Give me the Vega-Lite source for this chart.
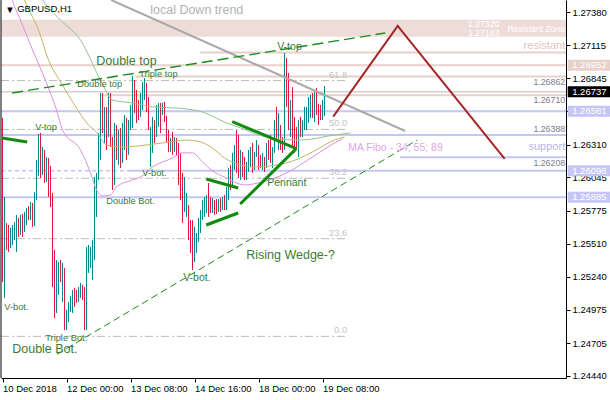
{
  "$schema": "https://vega.github.io/schema/vega-lite/v6.json",
  "width": 565,
  "height": 378,
  "autosize": {"type": "none"},
  "padding": {"left": 1, "top": 0, "right": 44, "bottom": 22},
  "background": "white",
  "config": {"view": {"stroke": null}, "font": "Liberation Sans"},
  "resolve": {"scale": {"color": "independent"}, "axis": {"x": "independent", "y": "independent"}},
  "datasets": {
    "zone": [{"lo": 1.27183, "hi": 1.2732}],
    "levels": [
      {"p": 1.27056, "a": 98.85, "b": 281.75, "kind": "res"},
      {"p": 1.26952, "a": -0.75, "b": 281.75, "kind": "res"},
      {"p": 1.26862, "a": 66.35, "b": 281.75, "kind": "res"},
      {"p": 1.2671, "a": 48.85, "b": 281.75, "kind": "res"},
      {"p": 1.26581, "a": -0.75, "b": 281.75, "kind": "sup"},
      {"p": 1.26388, "a": -0.75, "b": 281.75, "kind": "sup"},
      {"p": 1.26208, "a": 198.85, "b": 281.75, "kind": "sup"},
      {"p": 1.26098, "a": 62.35, "b": 281.75, "kind": "sup"},
      {"p": 1.25885, "a": -0.75, "b": 281.75, "kind": "sup"}
    ],
    "dashed": [{"p": 1.26098, "a": -0.75, "b": 62.35}],
    "price": [{"p": 1.26737}],
    "fibo": [
      {"lvl": "61.8", "p": 1.26828},
      {"lvl": "50.0", "p": 1.26433},
      {"lvl": "38.2", "p": 1.26038},
      {"lvl": "23.6", "p": 1.25549},
      {"lvl": "0.0", "p": 1.24759}
    ],
    "candles": [
      {"i":0,"o":1.26509,"h":1.26526,"l":1.25199,"c":1.25361},
      {"i":1,"o":1.25361,"h":1.25887,"l":1.2507,"c":1.25603},
      {"i":2,"o":1.25603,"h":1.25676,"l":1.25458,"c":1.25538},
      {"i":3,"o":1.25538,"h":1.2566,"l":1.25442,"c":1.25498},
      {"i":4,"o":1.25498,"h":1.25636,"l":1.25474,"c":1.25603},
      {"i":5,"o":1.25603,"h":1.2566,"l":1.25498,"c":1.25619},
      {"i":6,"o":1.25619,"h":1.25684,"l":1.25538,"c":1.25652},
      {"i":7,"o":1.25652,"h":1.25741,"l":1.25442,"c":1.25684},
      {"i":8,"o":1.25684,"h":1.25716,"l":1.25563,"c":1.25603},
      {"i":9,"o":1.25603,"h":1.25741,"l":1.25579,"c":1.25716},
      {"i":10,"o":1.25716,"h":1.25749,"l":1.25563,"c":1.25619},
      {"i":11,"o":1.25619,"h":1.25765,"l":1.25603,"c":1.25741},
      {"i":12,"o":1.25741,"h":1.25797,"l":1.2566,"c":1.25781},
      {"i":13,"o":1.25781,"h":1.25813,"l":1.257,"c":1.25733},
      {"i":14,"o":1.25733,"h":1.25846,"l":1.257,"c":1.25822},
      {"i":15,"o":1.25822,"h":1.25838,"l":1.25644,"c":1.25684},
      {"i":16,"o":1.25684,"h":1.25927,"l":1.25652,"c":1.25895},
      {"i":17,"o":1.25895,"h":1.26186,"l":1.25862,"c":1.26146},
      {"i":18,"o":1.26146,"h":1.26396,"l":1.26057,"c":1.26347},
      {"i":19,"o":1.26347,"h":1.26404,"l":1.2604,"c":1.26105},
      {"i":20,"o":1.26105,"h":1.26291,"l":1.26065,"c":1.26251},
      {"i":21,"o":1.26251,"h":1.26267,"l":1.26,"c":1.26057},
      {"i":22,"o":1.26057,"h":1.2621,"l":1.26008,"c":1.26186},
      {"i":23,"o":1.26186,"h":1.26202,"l":1.25887,"c":1.25943},
      {"i":24,"o":1.25943,"h":1.26138,"l":1.25805,"c":1.25862},
      {"i":25,"o":1.25862,"h":1.25919,"l":1.25158,"c":1.25215},
      {"i":26,"o":1.25215,"h":1.25458,"l":1.24907,"c":1.25053},
      {"i":27,"o":1.25053,"h":1.25377,"l":1.24948,"c":1.25296},
      {"i":28,"o":1.25296,"h":1.25361,"l":1.25094,"c":1.25312},
      {"i":29,"o":1.25312,"h":1.25377,"l":1.25199,"c":1.25231},
      {"i":30,"o":1.25231,"h":1.25353,"l":1.25037,"c":1.25296},
      {"i":31,"o":1.25296,"h":1.25312,"l":1.2481,"c":1.24875},
      {"i":32,"o":1.24851,"h":1.24972,"l":1.2481,"c":1.2494},
      {"i":33,"o":1.2494,"h":1.25037,"l":1.24875,"c":1.25013},
      {"i":34,"o":1.25013,"h":1.25086,"l":1.24956,"c":1.25062},
      {"i":35,"o":1.25062,"h":1.25134,"l":1.24948,"c":1.25118},
      {"i":36,"o":1.25118,"h":1.2515,"l":1.24997,"c":1.25021},
      {"i":37,"o":1.25053,"h":1.25134,"l":1.25029,"c":1.25037},
      {"i":38,"o":1.25037,"h":1.25158,"l":1.25037,"c":1.25134},
      {"i":39,"o":1.25134,"h":1.25191,"l":1.2507,"c":1.25167},
      {"i":40,"o":1.25167,"h":1.25175,"l":1.25053,"c":1.2507},
      {"i":41,"o":1.2507,"h":1.25158,"l":1.2481,"c":1.24875},
      {"i":42,"o":1.24875,"h":1.25482,"l":1.2481,"c":1.25442},
      {"i":43,"o":1.25312,"h":1.25498,"l":1.25272,"c":1.25474},
      {"i":44,"o":1.25361,"h":1.25482,"l":1.25312,"c":1.25458},
      {"i":45,"o":1.25256,"h":1.25538,"l":1.25215,"c":1.25498},
      {"i":46,"o":1.25394,"h":1.26048,"l":1.25377,"c":1.26008},
      {"i":47,"o":1.25781,"h":1.26081,"l":1.25725,"c":1.2604},
      {"i":48,"o":1.2604,"h":1.26404,"l":1.26024,"c":1.26364},
      {"i":49,"o":1.26227,"h":1.26728,"l":1.26186,"c":1.26671},
      {"i":50,"o":1.26671,"h":1.26728,"l":1.26404,"c":1.26445},
      {"i":51,"o":1.26347,"h":1.26615,"l":1.26323,"c":1.26574},
      {"i":52,"o":1.26574,"h":1.26615,"l":1.26267,"c":1.26307},
      {"i":53,"o":1.26388,"h":1.26728,"l":1.26372,"c":1.26687},
      {"i":54,"o":1.26687,"h":1.26728,"l":1.26291,"c":1.26347},
      {"i":55,"o":1.26347,"h":1.26372,"l":1.25943,"c":1.26024},
      {"i":56,"o":1.26024,"h":1.26485,"l":1.25984,"c":1.26428},
      {"i":57,"o":1.26428,"h":1.26469,"l":1.26186,"c":1.26227},
      {"i":58,"o":1.26186,"h":1.26428,"l":1.26146,"c":1.26388},
      {"i":59,"o":1.26388,"h":1.26445,"l":1.26121,"c":1.26186},
      {"i":60,"o":1.26186,"h":1.26485,"l":1.26162,"c":1.26445},
      {"i":61,"o":1.26347,"h":1.2655,"l":1.26267,"c":1.26509},
      {"i":62,"o":1.26509,"h":1.26526,"l":1.26186,"c":1.26267},
      {"i":63,"o":1.26267,"h":1.26509,"l":1.26227,"c":1.26469},
      {"i":64,"o":1.26445,"h":1.26631,"l":1.26428,"c":1.26606},
      {"i":65,"o":1.26469,"h":1.26866,"l":1.26445,"c":1.26792},
      {"i":66,"o":1.26792,"h":1.26833,"l":1.26566,"c":1.26606},
      {"i":67,"o":1.26671,"h":1.26752,"l":1.26485,"c":1.26526},
      {"i":68,"o":1.26631,"h":1.26671,"l":1.26509,"c":1.2655},
      {"i":69,"o":1.2655,"h":1.26728,"l":1.26534,"c":1.26695},
      {"i":70,"o":1.26631,"h":1.26817,"l":1.2659,"c":1.26768},
      {"i":71,"o":1.26712,"h":1.26849,"l":1.26671,"c":1.26817},
      {"i":72,"o":1.26792,"h":1.26809,"l":1.26574,"c":1.26606},
      {"i":73,"o":1.26606,"h":1.26695,"l":1.26428,"c":1.26469},
      {"i":74,"o":1.26186,"h":1.26453,"l":1.26129,"c":1.26412},
      {"i":75,"o":1.26283,"h":1.26534,"l":1.26243,"c":1.26493},
      {"i":76,"o":1.26469,"h":1.26509,"l":1.26323,"c":1.26364},
      {"i":77,"o":1.26412,"h":1.26631,"l":1.26372,"c":1.2659},
      {"i":78,"o":1.26469,"h":1.26647,"l":1.26453,"c":1.26606},
      {"i":79,"o":1.26606,"h":1.26647,"l":1.26404,"c":1.26445},
      {"i":80,"o":1.26574,"h":1.26647,"l":1.2655,"c":1.26623},
      {"i":81,"o":1.26623,"h":1.26655,"l":1.26493,"c":1.26526},
      {"i":82,"o":1.26526,"h":1.26542,"l":1.26331,"c":1.26364},
      {"i":83,"o":1.26388,"h":1.26428,"l":1.26251,"c":1.26283},
      {"i":84,"o":1.26283,"h":1.26364,"l":1.26251,"c":1.26347},
      {"i":85,"o":1.26347,"h":1.26412,"l":1.26227,"c":1.26267},
      {"i":86,"o":1.26267,"h":1.26372,"l":1.26251,"c":1.26331},
      {"i":87,"o":1.26331,"h":1.26364,"l":1.26227,"c":1.26267},
      {"i":88,"o":1.26283,"h":1.26323,"l":1.25984,"c":1.2604},
      {"i":89,"o":1.26105,"h":1.26243,"l":1.25862,"c":1.25903},
      {"i":90,"o":1.25943,"h":1.26081,"l":1.25676,"c":1.25741},
      {"i":91,"o":1.25781,"h":1.26048,"l":1.25765,"c":1.25984},
      {"i":92,"o":1.25741,"h":1.25919,"l":1.25725,"c":1.25878},
      {"i":93,"o":1.25805,"h":1.25822,"l":1.25538,"c":1.25579},
      {"i":94,"o":1.2566,"h":1.257,"l":1.25434,"c":1.25474},
      {"i":95,"o":1.25579,"h":1.257,"l":1.25296,"c":1.25418},
      {"i":96,"o":1.25394,"h":1.25644,"l":1.25361,"c":1.25603},
      {"i":97,"o":1.25458,"h":1.25595,"l":1.25434,"c":1.25571},
      {"i":98,"o":1.25554,"h":1.25716,"l":1.25522,"c":1.25684},
      {"i":99,"o":1.25619,"h":1.25781,"l":1.25595,"c":1.25757},
      {"i":100,"o":1.25716,"h":1.25862,"l":1.257,"c":1.2583},
      {"i":101,"o":1.25741,"h":1.25887,"l":1.25725,"c":1.25862},
      {"i":102,"o":1.25781,"h":1.25903,"l":1.25757,"c":1.25878},
      {"i":103,"o":1.25943,"h":1.26,"l":1.25725,"c":1.25765},
      {"i":104,"o":1.25862,"h":1.25887,"l":1.25757,"c":1.25781},
      {"i":105,"o":1.25765,"h":1.25878,"l":1.25757,"c":1.25846},
      {"i":106,"o":1.25846,"h":1.25862,"l":1.25741,"c":1.25765},
      {"i":107,"o":1.25838,"h":1.2587,"l":1.25749,"c":1.25781},
      {"i":108,"o":1.25781,"h":1.2587,"l":1.25765,"c":1.25846},
      {"i":109,"o":1.25862,"h":1.25878,"l":1.25765,"c":1.25797},
      {"i":110,"o":1.25797,"h":1.25887,"l":1.25781,"c":1.25862},
      {"i":111,"o":1.25862,"h":1.25903,"l":1.25781,"c":1.25822},
      {"i":112,"o":1.25805,"h":1.25967,"l":1.25781,"c":1.25927},
      {"i":113,"o":1.25878,"h":1.26121,"l":1.25862,"c":1.26089},
      {"i":114,"o":1.26089,"h":1.26146,"l":1.25943,"c":1.25984},
      {"i":115,"o":1.25984,"h":1.26243,"l":1.2596,"c":1.26202},
      {"i":116,"o":1.26146,"h":1.26307,"l":1.26105,"c":1.26267},
      {"i":117,"o":1.26267,"h":1.26428,"l":1.26081,"c":1.26121},
      {"i":118,"o":1.26186,"h":1.26388,"l":1.2604,"c":1.26089},
      {"i":119,"o":1.2604,"h":1.26267,"l":1.26024,"c":1.26227},
      {"i":120,"o":1.26227,"h":1.26251,"l":1.26048,"c":1.26089},
      {"i":121,"o":1.26146,"h":1.2621,"l":1.26024,"c":1.26065},
      {"i":122,"o":1.2604,"h":1.2617,"l":1.26024,"c":1.26146},
      {"i":123,"o":1.26105,"h":1.26267,"l":1.26089,"c":1.26227},
      {"i":124,"o":1.26146,"h":1.26291,"l":1.26129,"c":1.26267},
      {"i":125,"o":1.26267,"h":1.26323,"l":1.26081,"c":1.26121},
      {"i":126,"o":1.26121,"h":1.26251,"l":1.26105,"c":1.26227},
      {"i":127,"o":1.26227,"h":1.26347,"l":1.2621,"c":1.26323},
      {"i":128,"o":1.26283,"h":1.26307,"l":1.26105,"c":1.26146},
      {"i":129,"o":1.26186,"h":1.26227,"l":1.26121,"c":1.26146},
      {"i":130,"o":1.26129,"h":1.26243,"l":1.26105,"c":1.2621},
      {"i":131,"o":1.26186,"h":1.2621,"l":1.26089,"c":1.26121},
      {"i":132,"o":1.26146,"h":1.26323,"l":1.26121,"c":1.26291},
      {"i":133,"o":1.26307,"h":1.26347,"l":1.26186,"c":1.26227},
      {"i":134,"o":1.26267,"h":1.26388,"l":1.26162,"c":1.26202},
      {"i":135,"o":1.26146,"h":1.26291,"l":1.26121,"c":1.26267},
      {"i":136,"o":1.26267,"h":1.26509,"l":1.26243,"c":1.26469},
      {"i":137,"o":1.2655,"h":1.26615,"l":1.26347,"c":1.26388},
      {"i":138,"o":1.26347,"h":1.26566,"l":1.26267,"c":1.26509},
      {"i":139,"o":1.26428,"h":1.26469,"l":1.26267,"c":1.26307},
      {"i":140,"o":1.26347,"h":1.26372,"l":1.26243,"c":1.26283},
      {"i":141,"o":1.26283,"h":1.27052,"l":1.26267,"c":1.26979},
      {"i":142,"o":1.26979,"h":1.27011,"l":1.26615,"c":1.26671},
      {"i":143,"o":1.26752,"h":1.2689,"l":1.26428,"c":1.26469},
      {"i":144,"o":1.26428,"h":1.26671,"l":1.26372,"c":1.26606},
      {"i":145,"o":1.26712,"h":1.26776,"l":1.26291,"c":1.26347},
      {"i":146,"o":1.26469,"h":1.26534,"l":1.26243,"c":1.26307},
      {"i":147,"o":1.26388,"h":1.26453,"l":1.26267,"c":1.26283},
      {"i":148,"o":1.26267,"h":1.26509,"l":1.2621,"c":1.26469},
      {"i":149,"o":1.26509,"h":1.26534,"l":1.26372,"c":1.26412},
      {"i":150,"o":1.26388,"h":1.26509,"l":1.26372,"c":1.26469},
      {"i":151,"o":1.26445,"h":1.26615,"l":1.26428,"c":1.26574},
      {"i":152,"o":1.26469,"h":1.26615,"l":1.26428,"c":1.2659},
      {"i":153,"o":1.26509,"h":1.26695,"l":1.26485,"c":1.26671},
      {"i":154,"o":1.26574,"h":1.26712,"l":1.26526,"c":1.26687},
      {"i":155,"o":1.26687,"h":1.26728,"l":1.26526,"c":1.2659},
      {"i":156,"o":1.26526,"h":1.26736,"l":1.26493,"c":1.26703},
      {"i":157,"o":1.26736,"h":1.26768,"l":1.2655,"c":1.26606},
      {"i":158,"o":1.26606,"h":1.26639,"l":1.26469,"c":1.26526},
      {"i":159,"o":1.26574,"h":1.26631,"l":1.26509,"c":1.26534},
      {"i":160,"o":1.26534,"h":1.26671,"l":1.26509,"c":1.26639},
      {"i":161,"o":1.26623,"h":1.26784,"l":1.26542,"c":1.26737}
    ],
    "ma": [
      {"s":"MA34","i":3,"v":1.2762},{"s":"MA34","i":5,"v":1.2748},{"s":"MA34","i":9,"v":1.27318},{"s":"MA34","i":15,"v":1.27076},
      {"s":"MA34","i":22,"v":1.26809},{"s":"MA34","i":27,"v":1.2659},{"s":"MA34","i":30,"v":1.26428},{"s":"MA34","i":39,"v":1.26267},
      {"s":"MA34","i":44,"v":1.26081},{"s":"MA34","i":47,"v":1.25943},{"s":"MA34","i":50,"v":1.25895},{"s":"MA34","i":54,"v":1.25903},
      {"s":"MA34","i":57,"v":1.25967},{"s":"MA34","i":65,"v":1.26024},{"s":"MA34","i":69,"v":1.26048},{"s":"MA34","i":75,"v":1.26129},
      {"s":"MA34","i":85,"v":1.26202},{"s":"MA34","i":90,"v":1.26243},{"s":"MA34","i":95,"v":1.26243},{"s":"MA34","i":100,"v":1.2617},
      {"s":"MA34","i":105,"v":1.26097},{"s":"MA34","i":111,"v":1.26048},{"s":"MA34","i":121,"v":1.25984},{"s":"MA34","i":128,"v":1.26},
      {"s":"MA34","i":142,"v":1.26081},{"s":"MA34","i":155,"v":1.2621},{"s":"MA34","i":166,"v":1.26323},{"s":"MA34","i":170,"v":1.26356},
      {"s":"MA55","i":8,"v":1.2762},{"s":"MA55","i":11,"v":1.2748},{"s":"MA55","i":18,"v":1.27237},{"s":"MA55","i":23,"v":1.26995},
      {"s":"MA55","i":30,"v":1.26792},{"s":"MA55","i":36,"v":1.26631},{"s":"MA55","i":43,"v":1.26469},{"s":"MA55","i":47,"v":1.26412},
      {"s":"MA55","i":52,"v":1.26307},{"s":"MA55","i":59,"v":1.26291},{"s":"MA55","i":72,"v":1.26307},{"s":"MA55","i":80,"v":1.26323},
      {"s":"MA55","i":92,"v":1.26347},{"s":"MA55","i":99,"v":1.26331},{"s":"MA55","i":105,"v":1.26283},{"s":"MA55","i":111,"v":1.26202},
      {"s":"MA55","i":119,"v":1.26146},{"s":"MA55","i":125,"v":1.26129},{"s":"MA55","i":142,"v":1.26162},{"s":"MA55","i":155,"v":1.26251},
      {"s":"MA55","i":166,"v":1.26347},{"s":"MA55","i":171,"v":1.26372},
      {"s":"MA89","i":15,"v":1.2762},{"s":"MA89","i":20,"v":1.2748},{"s":"MA89","i":29,"v":1.27318},{"s":"MA89","i":39,"v":1.27156},
      {"s":"MA89","i":49,"v":1.26833},{"s":"MA89","i":55,"v":1.26671},{"s":"MA89","i":65,"v":1.26647},{"s":"MA89","i":75,"v":1.26615},
      {"s":"MA89","i":87,"v":1.26606},{"s":"MA89","i":100,"v":1.26574},{"s":"MA89","i":111,"v":1.26493},{"s":"MA89","i":119,"v":1.26445},
      {"s":"MA89","i":134,"v":1.26364},{"s":"MA89","i":149,"v":1.26347},{"s":"MA89","i":166,"v":1.26388},{"s":"MA89","i":174,"v":1.26404}
    ],
    "segs": [
      {"k":"trend","x0":54.35,"y0":1.2748,"x1":201.35,"y1":1.2642},
      {"k":"chan","x0":4.85,"y0":1.26728,"x1":191.35,"y1":1.27213},
      {"k":"wedge","x0":27.2,"y0":1.24614,"x1":207.35,"y1":1.26347},
      {"k":"pat","x0":-0.25,"y0":1.26363,"x1":12.35,"y1":1.26331},
      {"k":"pat","x0":114.85,"y0":1.26497,"x1":146.85,"y1":1.26278},
      {"k":"pat","x0":118.85,"y0":1.2583,"x1":146.85,"y1":1.26278},
      {"k":"pat","x0":101.85,"y0":1.26032,"x1":117.85,"y1":1.25959},
      {"k":"pat","x0":101.85,"y0":1.2566,"x1":117.85,"y1":1.25757}
    ],
    "proj": [
      {"i":165.35,"p":1.26537},
      {"i":197.6,"p":1.2727},
      {"i":251.1,"p":1.26194}
    ],
    "notes": [
      {"t":"Double top","i":46.85,"p":1.26983,"cls":"big"},
      {"t":"Double Bot.","i":4.85,"p":1.24656,"cls":"big"},
      {"t":"Rising Wedge-?","i":121.85,"p":1.25418,"cls":"big"},
      {"t":"V-top","i":137.35,"p":1.27102,"cls":"mid"},
      {"t":"V-bot.","i":90.35,"p":1.25231,"cls":"mid"},
      {"t":"Pennant","i":132.35,"p":1.26002,"cls":"mid"},
      {"t":"Triple top","i":68.35,"p":1.26882,"cls":"small"},
      {"t":"Double top","i":37.35,"p":1.26801,"cls":"small"},
      {"t":"V-top","i":16.35,"p":1.26455,"cls":"small"},
      {"t":"V-bot.","i":69.85,"p":1.26081,"cls":"small"},
      {"t":"Double Bot.","i":51.85,"p":1.25856,"cls":"small"},
      {"t":"V-bot.","i":0.85,"p":1.24999,"cls":"small"},
      {"t":"Triple Bot.","i":21.35,"p":1.24745,"cls":"small"},
      {"t":"▼","i":1.35,"p":1.27399,"cls":"title"},
      {"t":"GBPUSD,H1","i":7.35,"p":1.27407,"cls":"title"},
      {"t":"local Down trend","i":73.85,"p":1.27399,"cls":"note"},
      {"t":"MA Fibo - 34; 55; 89","i":172.85,"p":1.26286,"cls":"ma"},
      {"t":"1.26862","i":281.35,"p":1.26819,"cls":"num"},
      {"t":"1.26710","i":281.35,"p":1.26671,"cls":"num"},
      {"t":"1.26388","i":281.35,"p":1.2644,"cls":"num"},
      {"t":"1.26208","i":281.35,"p":1.26159,"cls":"num"},
      {"t":"resistant","i":281.35,"p":1.27107,"cls":"res"},
      {"t":"support","i":281.35,"p":1.26288,"cls":"sup"},
      {"t":"Resistant Zone","i":281.35,"p":1.27248,"cls":"zone"},
      {"t":"1.27320","i":248.35,"p":1.27284,"cls":"zone"},
      {"t":"1.27183","i":248.35,"p":1.27212,"cls":"zone"}
    ],
    "marks": [
      {"p":1.26952,"kind":"res"},
      {"p":1.26737,"kind":"price"},
      {"p":1.26581,"kind":"sup"},
      {"p":1.26098,"kind":"sup"},
      {"p":1.25885,"kind":"sup"}
    ]
  },
  "layer": [
    {
      "data": {"name": "zone"},
      "mark": {"type": "rect", "color": "#eedcd8"},
      "encoding": {
        "x": {"datum": -0.75, "type": "quantitative", "scale": {"domain": [-0.75, 281.75], "nice": false, "zero": false}, "axis": null},
        "x2": {"datum": 281.75},
        "y": {"field": "lo", "type": "quantitative", "scale": {"domain": [1.24422, 1.2748], "nice": false, "zero": false}, "axis": null},
        "y2": {"field": "hi"}
      }
    },
    {
      "data": {"name": "levels"},
      "mark": {"type": "rule", "strokeWidth": 2},
      "encoding": {
        "x": {"field": "a", "type": "quantitative", "scale": {"domain": [-0.75, 281.75], "nice": false, "zero": false}, "axis": null},
        "x2": {"field": "b"},
        "y": {"field": "p", "type": "quantitative", "scale": {"domain": [1.24422, 1.2748], "nice": false, "zero": false}, "axis": null},
        "color": {"field": "kind", "type": "nominal", "scale": {"domain": ["res", "sup"], "range": ["#e8d0cb", "#c6c6f5"]}, "legend": null}
      }
    },
    {
      "data": {"name": "dashed"},
      "mark": {"type": "rule", "strokeWidth": 1.5, "color": "#c6c6f5", "strokeDash": [4, 3]},
      "encoding": {
        "x": {"field": "a", "type": "quantitative", "scale": {"domain": [-0.75, 281.75], "nice": false, "zero": false}, "axis": null},
        "x2": {"field": "b"},
        "y": {"field": "p", "type": "quantitative", "scale": {"domain": [1.24422, 1.2748], "nice": false, "zero": false}, "axis": null}
      }
    },
    {
      "data": {"name": "price"},
      "mark": {"type": "rule", "strokeWidth": 1, "color": "#b9b9b9"},
      "encoding": {
        "x": {"datum": -0.75, "type": "quantitative", "scale": {"domain": [-0.75, 281.75], "nice": false, "zero": false}, "axis": null},
        "x2": {"datum": 281.75},
        "y": {"field": "p", "type": "quantitative", "scale": {"domain": [1.24422, 1.2748], "nice": false, "zero": false}, "axis": null}
      }
    },
    {
      "data": {"name": "fibo"},
      "mark": {"type": "rule", "strokeWidth": 1, "color": "#bababa", "strokeDash": [8, 3, 2, 3]},
      "encoding": {
        "x": {"datum": -0.75, "type": "quantitative", "scale": {"domain": [-0.75, 281.75], "nice": false, "zero": false}, "axis": null},
        "x2": {"datum": 172.35},
        "y": {"field": "p", "type": "quantitative", "scale": {"domain": [1.24422, 1.2748], "nice": false, "zero": false}, "axis": null}
      }
    },
    {
      "data": {"name": "fibo"},
      "mark": {"type": "text", "align": "right", "baseline": "middle", "dy": -6, "fontSize": 9.3, "color": "#c4c4c4"},
      "encoding": {
        "x": {"datum": 172.35, "type": "quantitative", "scale": {"domain": [-0.75, 281.75], "nice": false, "zero": false}, "axis": null},
        "y": {"field": "p", "type": "quantitative", "scale": {"domain": [1.24422, 1.2748], "nice": false, "zero": false}, "axis": null},
        "text": {"field": "lvl"}
      }
    },
    {
      "data": {"name": "candles"},
      "mark": {"type": "rule", "strokeWidth": 1},
      "encoding": {
        "x": {
          "field": "i", "type": "quantitative",
          "scale": {"domain": [-0.75, 281.75], "nice": false, "zero": false},
          "axis": {
            "orient": "bottom", "title": null, "grid": false,
            "values": [0, 32, 64, 96, 128, 160],
            "labelExpr": "datum.value == 0 ? '10 Dec 2018' : datum.value == 32 ? '12 Dec 00:00' : datum.value == 64 ? '13 Dec 08:00' : datum.value == 96 ? '14 Dec 16:00' : datum.value == 128 ? '18 Dec 00:00' : '19 Dec 08:00'",
            "domainColor": "#000000", "tickColor": "#000000", "tickSize": 4,
            "labelAlign": "left", "labelBaseline": "top", "labelPadding": 1,
            "labelFontSize": 9.5, "labelColor": "#000000",
            "labelFlush": false, "labelOverlap": false, "labelBound": false
          }
        },
        "y": {
          "field": "l", "type": "quantitative",
          "scale": {"domain": [1.24422, 1.2748], "nice": false, "zero": false},
          "axis": {
            "orient": "right", "title": null, "grid": false,
            "values": [1.2738, 1.27115, 1.26845, 1.2658, 1.2631, 1.26045, 1.25775, 1.2551, 1.2524, 1.24975, 1.24705, 1.2444],
            "format": ".5f",
            "domainColor": "#000000", "tickColor": "#000000", "tickSize": 4,
            "labelPadding": 2, "labelFontSize": 9.5, "labelColor": "#000000",
            "labelFlush": false, "labelOverlap": false, "labelBound": false
          }
        },
        "y2": {"field": "h"},
        "color": {"condition": {"test": "datum.c >= datum.o", "value": "#00898b"}, "value": "#e3173e"}
      }
    },
    {
      "data": {"name": "ma"},
      "mark": {"type": "line", "strokeWidth": 1, "interpolate": "monotone", "clip": true},
      "encoding": {
        "x": {"field": "i", "type": "quantitative", "scale": {"domain": [-0.75, 281.75], "nice": false, "zero": false}, "axis": null},
        "y": {"field": "v", "type": "quantitative", "scale": {"domain": [1.24422, 1.2748], "nice": false, "zero": false}, "axis": null},
        "color": {"field": "s", "type": "nominal", "scale": {"domain": ["MA34", "MA55", "MA89"], "range": ["#df8fdf", "#c4b461", "#92c492"]}, "legend": null}
      }
    },
    {
      "data": {"name": "segs"},
      "transform": [{"filter": "datum.k == 'trend'"}],
      "mark": {"type": "rule", "strokeWidth": 2, "color": "#a9a9a9", "clip": true},
      "encoding": {
        "x": {"field": "x0", "type": "quantitative", "scale": {"domain": [-0.75, 281.75], "nice": false, "zero": false}, "axis": null},
        "x2": {"field": "x1"},
        "y": {"field": "y0", "type": "quantitative", "scale": {"domain": [1.24422, 1.2748], "nice": false, "zero": false}, "axis": null},
        "y2": {"field": "y1"}
      }
    },
    {
      "data": {"name": "segs"},
      "transform": [{"filter": "datum.k == 'chan'"}],
      "mark": {"type": "rule", "strokeWidth": 1.4, "color": "#1c8c1c", "strokeDash": [11, 5]},
      "encoding": {
        "x": {"field": "x0", "type": "quantitative", "scale": {"domain": [-0.75, 281.75], "nice": false, "zero": false}, "axis": null},
        "x2": {"field": "x1"},
        "y": {"field": "y0", "type": "quantitative", "scale": {"domain": [1.24422, 1.2748], "nice": false, "zero": false}, "axis": null},
        "y2": {"field": "y1"}
      }
    },
    {
      "data": {"name": "segs"},
      "transform": [{"filter": "datum.k == 'wedge'"}],
      "mark": {"type": "rule", "strokeWidth": 1, "color": "#1c8c1c", "strokeDash": [7, 4]},
      "encoding": {
        "x": {"field": "x0", "type": "quantitative", "scale": {"domain": [-0.75, 281.75], "nice": false, "zero": false}, "axis": null},
        "x2": {"field": "x1"},
        "y": {"field": "y0", "type": "quantitative", "scale": {"domain": [1.24422, 1.2748], "nice": false, "zero": false}, "axis": null},
        "y2": {"field": "y1"}
      }
    },
    {
      "data": {"name": "segs"},
      "transform": [{"filter": "datum.k == 'pat'"}],
      "mark": {"type": "rule", "strokeWidth": 3, "color": "#128a12"},
      "encoding": {
        "x": {"field": "x0", "type": "quantitative", "scale": {"domain": [-0.75, 281.75], "nice": false, "zero": false}, "axis": null},
        "x2": {"field": "x1"},
        "y": {"field": "y0", "type": "quantitative", "scale": {"domain": [1.24422, 1.2748], "nice": false, "zero": false}, "axis": null},
        "y2": {"field": "y1"}
      }
    },
    {
      "data": {"name": "proj"},
      "mark": {"type": "line", "strokeWidth": 2, "color": "#a62626"},
      "encoding": {
        "x": {"field": "i", "type": "quantitative", "scale": {"domain": [-0.75, 281.75], "nice": false, "zero": false}, "axis": null},
        "y": {"field": "p", "type": "quantitative", "scale": {"domain": [1.24422, 1.2748], "nice": false, "zero": false}, "axis": null}
      }
    },
    {
      "data": {"name": "notes"},
      "transform": [{"filter": "datum.cls == 'big'"}],
      "mark": {"type": "text", "align": "left", "baseline": "middle", "fontSize": 12.5, "color": "#3c7b32"},
      "encoding": {
        "x": {"field": "i", "type": "quantitative", "scale": {"domain": [-0.75, 281.75], "nice": false, "zero": false}, "axis": null},
        "y": {"field": "p", "type": "quantitative", "scale": {"domain": [1.24422, 1.2748], "nice": false, "zero": false}, "axis": null},
        "text": {"field": "t"}
      }
    },
    {
      "data": {"name": "notes"},
      "transform": [{"filter": "datum.cls == 'mid'"}],
      "mark": {"type": "text", "align": "left", "baseline": "middle", "fontSize": 10.5, "color": "#3c7b32"},
      "encoding": {
        "x": {"field": "i", "type": "quantitative", "scale": {"domain": [-0.75, 281.75], "nice": false, "zero": false}, "axis": null},
        "y": {"field": "p", "type": "quantitative", "scale": {"domain": [1.24422, 1.2748], "nice": false, "zero": false}, "axis": null},
        "text": {"field": "t"}
      }
    },
    {
      "data": {"name": "notes"},
      "transform": [{"filter": "datum.cls == 'small'"}],
      "mark": {"type": "text", "align": "left", "baseline": "middle", "fontSize": 9.3, "color": "#3c7b32"},
      "encoding": {
        "x": {"field": "i", "type": "quantitative", "scale": {"domain": [-0.75, 281.75], "nice": false, "zero": false}, "axis": null},
        "y": {"field": "p", "type": "quantitative", "scale": {"domain": [1.24422, 1.2748], "nice": false, "zero": false}, "axis": null},
        "text": {"field": "t"}
      }
    },
    {
      "data": {"name": "notes"},
      "transform": [{"filter": "datum.cls == 'title'"}],
      "mark": {"type": "text", "align": "left", "baseline": "middle", "fontSize": 9.5, "color": "#000000"},
      "encoding": {
        "x": {"field": "i", "type": "quantitative", "scale": {"domain": [-0.75, 281.75], "nice": false, "zero": false}, "axis": null},
        "y": {"field": "p", "type": "quantitative", "scale": {"domain": [1.24422, 1.2748], "nice": false, "zero": false}, "axis": null},
        "text": {"field": "t"}
      }
    },
    {
      "data": {"name": "notes"},
      "transform": [{"filter": "datum.cls == 'note'"}],
      "mark": {"type": "text", "align": "left", "baseline": "middle", "fontSize": 12.5, "color": "#b2b2b2"},
      "encoding": {
        "x": {"field": "i", "type": "quantitative", "scale": {"domain": [-0.75, 281.75], "nice": false, "zero": false}, "axis": null},
        "y": {"field": "p", "type": "quantitative", "scale": {"domain": [1.24422, 1.2748], "nice": false, "zero": false}, "axis": null},
        "text": {"field": "t"}
      }
    },
    {
      "data": {"name": "notes"},
      "transform": [{"filter": "datum.cls == 'ma'"}],
      "mark": {"type": "text", "align": "left", "baseline": "middle", "fontSize": 10.5, "color": "#e6a4e6"},
      "encoding": {
        "x": {"field": "i", "type": "quantitative", "scale": {"domain": [-0.75, 281.75], "nice": false, "zero": false}, "axis": null},
        "y": {"field": "p", "type": "quantitative", "scale": {"domain": [1.24422, 1.2748], "nice": false, "zero": false}, "axis": null},
        "text": {"field": "t"}
      }
    },
    {
      "data": {"name": "notes"},
      "transform": [{"filter": "datum.cls == 'num'"}],
      "mark": {"type": "text", "align": "right", "baseline": "middle", "fontSize": 8.8, "color": "#7b7b8e"},
      "encoding": {
        "x": {"field": "i", "type": "quantitative", "scale": {"domain": [-0.75, 281.75], "nice": false, "zero": false}, "axis": null},
        "y": {"field": "p", "type": "quantitative", "scale": {"domain": [1.24422, 1.2748], "nice": false, "zero": false}, "axis": null},
        "text": {"field": "t"}
      }
    },
    {
      "data": {"name": "notes"},
      "transform": [{"filter": "datum.cls == 'res' || datum.cls == 'sup'"}],
      "mark": {"type": "text", "align": "right", "baseline": "middle", "fontSize": 11},
      "encoding": {
        "x": {"field": "i", "type": "quantitative", "scale": {"domain": [-0.75, 281.75], "nice": false, "zero": false}, "axis": null},
        "y": {"field": "p", "type": "quantitative", "scale": {"domain": [1.24422, 1.2748], "nice": false, "zero": false}, "axis": null},
        "text": {"field": "t"},
        "color": {"field": "cls", "type": "nominal", "scale": {"domain": ["res", "sup"], "range": ["#e6c3bf", "#b6b6ee"]}, "legend": null}
      }
    },
    {
      "data": {"name": "notes"},
      "transform": [{"filter": "datum.cls == 'zone'"}],
      "mark": {"type": "text", "align": "right", "baseline": "middle", "fontSize": 8.6, "color": "#ffffff"},
      "encoding": {
        "x": {"field": "i", "type": "quantitative", "scale": {"domain": [-0.75, 281.75], "nice": false, "zero": false}, "axis": null},
        "y": {"field": "p", "type": "quantitative", "scale": {"domain": [1.24422, 1.2748], "nice": false, "zero": false}, "axis": null},
        "text": {"field": "t"}
      }
    },
    {
      "data": {"name": "marks"},
      "mark": {"type": "rule", "strokeWidth": 11, "strokeCap": "butt", "clip": false},
      "encoding": {
        "x": {"datum": 282.6, "type": "quantitative", "scale": {"domain": [-0.75, 281.75], "nice": false, "zero": false}, "axis": null},
        "x2": {"datum": 304.5},
        "y": {"field": "p", "type": "quantitative", "scale": {"domain": [1.24422, 1.2748], "nice": false, "zero": false}, "axis": null},
        "color": {"field": "kind", "type": "nominal", "scale": {"domain": ["res", "price", "sup"], "range": ["#e8d0cb", "#000000", "#c6c6f5"]}, "legend": null}
      }
    },
    {
      "data": {"name": "marks"},
      "mark": {"type": "text", "align": "left", "baseline": "middle", "fontSize": 9.5, "color": "#ffffff", "clip": false},
      "encoding": {
        "x": {"datum": 284.85, "type": "quantitative", "scale": {"domain": [-0.75, 281.75], "nice": false, "zero": false}, "axis": null},
        "y": {"field": "p", "type": "quantitative", "scale": {"domain": [1.24422, 1.2748], "nice": false, "zero": false}, "axis": null},
        "text": {"field": "p", "type": "quantitative", "format": ".5f"}
      }
    },
    {
      "data": {"values": [{}]},
      "mark": {"type": "rule", "strokeWidth": 1, "color": "#000000"},
      "encoding": {
        "x": {"datum": -0.75, "type": "quantitative", "scale": {"domain": [-0.75, 281.75], "nice": false, "zero": false}, "axis": null},
        "y": {"datum": 1.24422, "type": "quantitative", "scale": {"domain": [1.24422, 1.2748], "nice": false, "zero": false}, "axis": null},
        "y2": {"datum": 1.2748}
      }
    }
  ]
}
